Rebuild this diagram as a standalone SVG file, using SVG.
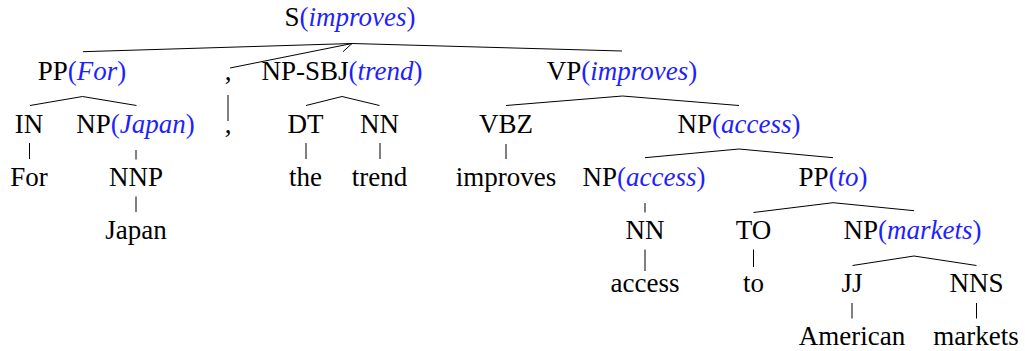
<svg xmlns="http://www.w3.org/2000/svg" width="1025" height="351" viewBox="0 0 1025 351">
<style>
text{font-family:"Liberation Serif","Times New Roman",serif;font-size:27px;fill:#000;text-anchor:middle}
.h{fill:#1f1fff}
.i{font-style:italic}
#edges path{fill:none;stroke:#000;stroke-width:1}
</style>
<rect width="1025" height="351" fill="#fff"/>
<g id="edges">
<path d="M83 51.7 L352 43.5 L622 51"/>
<path d="M230 68 L352 43.5"/>
<path d="M343 51.7 L352 43.5"/>
<path d="M30 105.5 L82.5 96.5 L136.5 105.5"/>
<path d="M228 95 L228 121"/>
<path d="M306 105.5 L342 96.5 L379.5 105.5"/>
<path d="M506 105.5 L622.5 96 L739 105.5"/>
<path d="M29.5 143 L29.5 159"/>
<path d="M136 150 L136 159.5"/>
<path d="M136 196.5 L136 212"/>
<path d="M306 143 L306 159"/>
<path d="M380 143 L380 159"/>
<path d="M506 144 L506 159"/>
<path d="M645 157.7 L739 149 L833 157.7"/>
<path d="M645 203 L645 212.5"/>
<path d="M753.5 212.5 L833 202.7 L914 210.7"/>
<path d="M645 249.5 L645 271"/>
<path d="M753.5 249.5 L753.5 267"/>
<path d="M852.5 265.5 L914 256 L976.5 265.5"/>
<path d="M852 303 L852 318.5"/>
<path d="M976.5 303 L976.5 318.5"/>
</g>
<g id="n_S"><text x="350" y="26">S<tspan class="h">(<tspan class="i">improves</tspan>)</tspan></text></g>
<g id="n_PP_For"><text x="82" y="80">PP<tspan class="h">(<tspan class="i">For</tspan>)</tspan></text></g>
<g id="n_comma_tag"><text x="228" y="80">,</text></g>
<g id="n_NP_SBJ"><text x="342" y="80">NP-SBJ<tspan class="h">(<tspan class="i">trend</tspan>)</tspan></text></g>
<g id="n_VP"><text x="622" y="80">VP<tspan class="h">(<tspan class="i">improves</tspan>)</tspan></text></g>
<g id="n_IN"><text x="29" y="133">IN</text></g>
<g id="n_NP_Japan"><text x="135.5" y="133">NP<tspan class="h">(<tspan class="i">Japan</tspan>)</tspan></text></g>
<g id="n_comma_word"><text x="228" y="133">,</text></g>
<g id="n_DT"><text x="305.5" y="133">DT</text></g>
<g id="n_NN_trend"><text x="379.5" y="133">NN</text></g>
<g id="n_VBZ"><text x="506" y="133">VBZ</text></g>
<g id="n_NP_access"><text x="739" y="133">NP<tspan class="h">(<tspan class="i">access</tspan>)</tspan></text></g>
<g id="w_For"><text x="29" y="186">For</text></g>
<g id="n_NNP"><text x="136" y="186">NNP</text></g>
<g id="w_the"><text x="305.5" y="186">the</text></g>
<g id="w_trend"><text x="379.5" y="186">trend</text></g>
<g id="w_improves"><text x="506" y="186">improves</text></g>
<g id="n_NP_access2"><text x="644" y="186">NP<tspan class="h">(<tspan class="i">access</tspan>)</tspan></text></g>
<g id="n_PP_to"><text x="833" y="186">PP<tspan class="h">(<tspan class="i">to</tspan>)</tspan></text></g>
<g id="w_Japan"><text x="136" y="239">Japan</text></g>
<g id="n_NN_access"><text x="645" y="239">NN</text></g>
<g id="n_TO"><text x="753.5" y="239">TO</text></g>
<g id="n_NP_markets"><text x="912.5" y="239">NP<tspan class="h">(<tspan class="i">markets</tspan>)</tspan></text></g>
<g id="w_access"><text x="645" y="292">access</text></g>
<g id="w_to"><text x="753.5" y="292">to</text></g>
<g id="n_JJ"><text x="852" y="292">JJ</text></g>
<g id="n_NNS"><text x="976.5" y="292">NNS</text></g>
<g id="w_American"><text x="852" y="345">American</text></g>
<g id="w_markets"><text x="976" y="345">markets</text></g>
</svg>
